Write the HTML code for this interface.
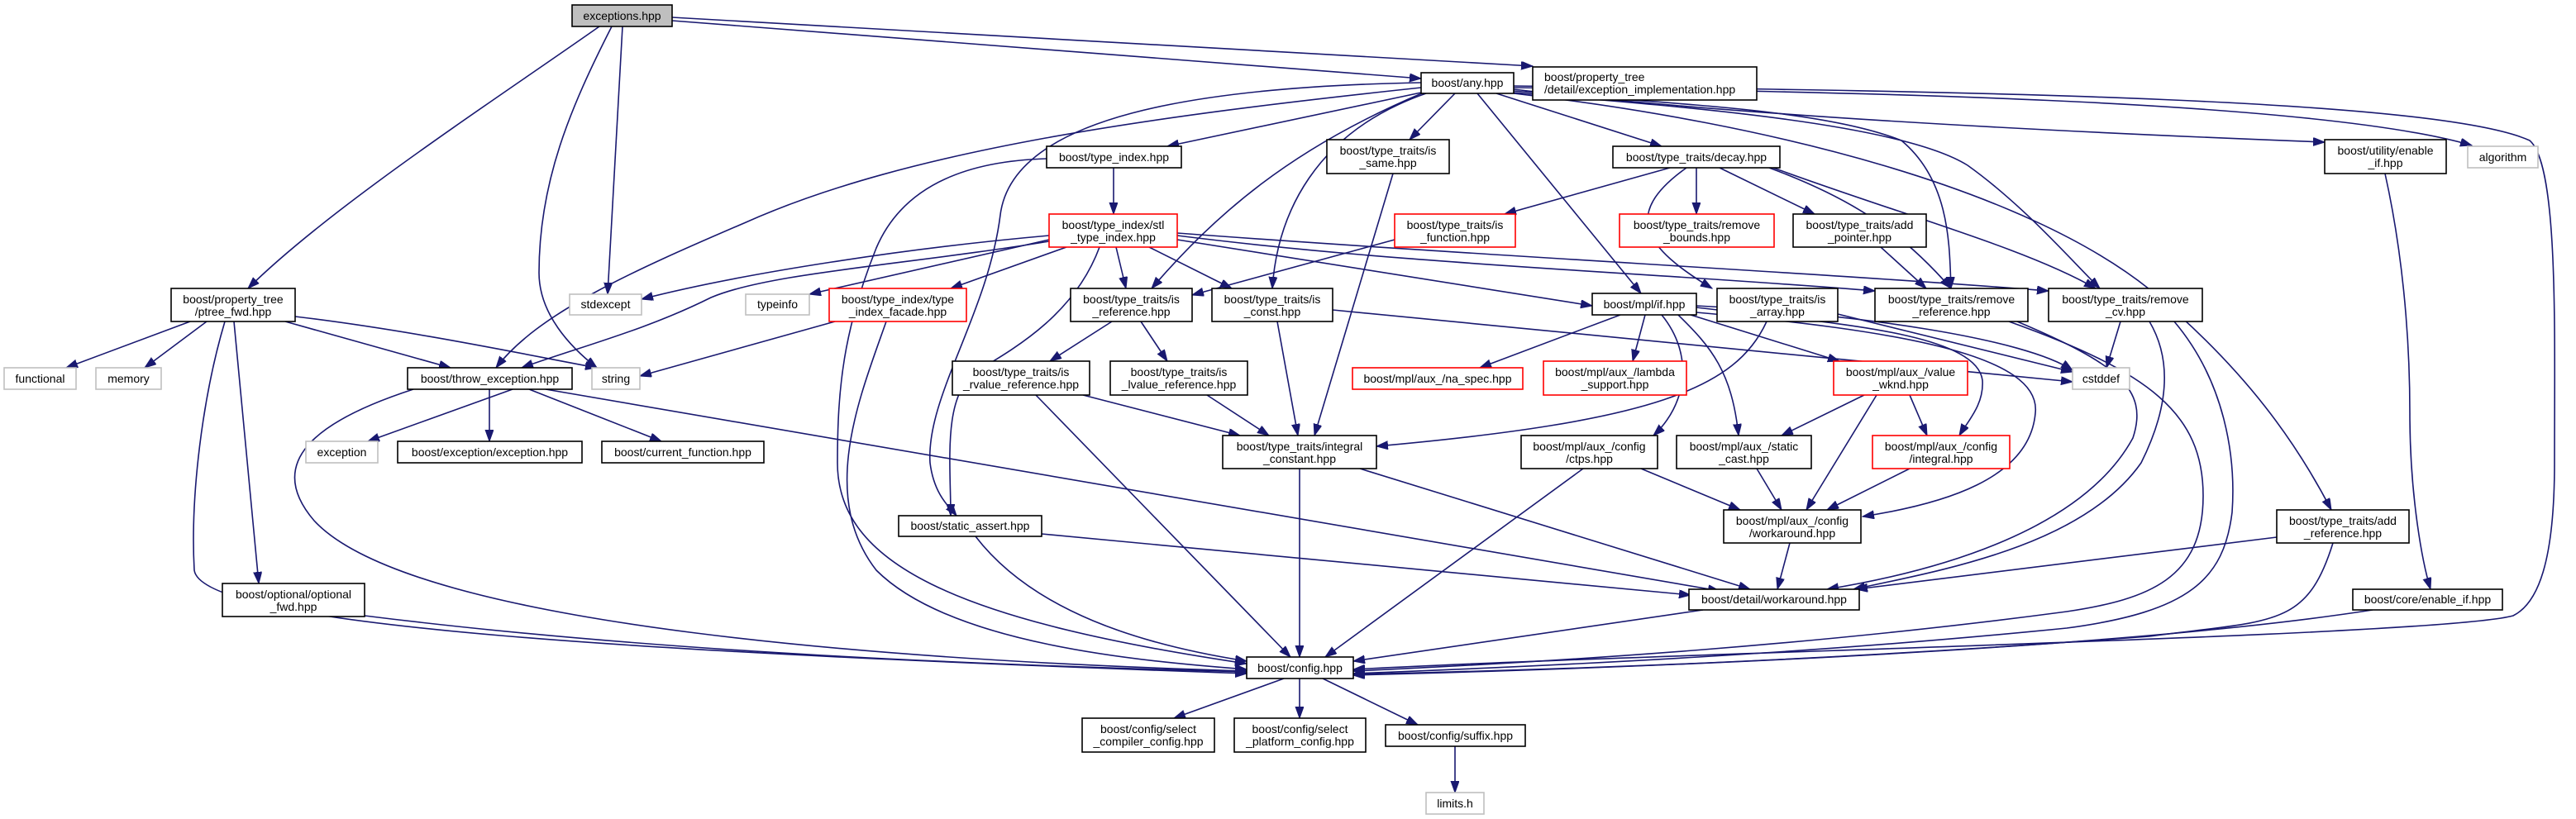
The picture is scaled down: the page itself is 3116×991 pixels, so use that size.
<!DOCTYPE html>
<html><head><meta charset="utf-8"><style>
html,body{margin:0;padding:0;background:#fff;}
svg{display:block;}
text{font-family:"Liberation Sans",sans-serif;font-size:14px;fill:#000;}
.e{fill:none;stroke:#191970;stroke-width:1.6;marker-end:url(#a);}
.n{fill:#fff;stroke:#000;stroke-width:1.6;}
.g{fill:#fff;stroke:#bfbfbf;stroke-width:1.6;}
.r{fill:#fff;stroke:#ff0000;stroke-width:1.6;}
</style></head><body>
<svg width="3116" height="991" viewBox="0 0 3116 991" xmlns="http://www.w3.org/2000/svg">
<defs><marker id="a" markerUnits="userSpaceOnUse" markerWidth="15" markerHeight="11" refX="14" refY="5" orient="auto"><path d="M0,0 L14,5 L0,10 z" fill="#191970" stroke="#191970"/></marker></defs>
<g>
<path class="e" d="M725,32 C600,120 400,250 300,349"/>
<path class="e" d="M740,32 C690,130 652,220 652,330 C652,380 690,420 722,445"/>
<path class="e" d="M753,32 L735,356"/>
<path class="e" d="M813,25 L1719,95"/>
<path class="e" d="M813,21 L1854,80"/>
<path class="e" d="M1719,106 C1400,140 1100,180 900,270 C760,330 650,380 600,445"/>
<path class="e" d="M1719,112 L1412,177"/>
<path class="e" d="M1760,113 L1705,169"/>
<path class="e" d="M1810,113 L2010,177"/>
<path class="e" d="M1722,112 C1560,180 1470,260 1393,349"/>
<path class="e" d="M1725,113 C1590,160 1545,260 1539,349"/>
<path class="e" d="M1719,100 C1450,105 1225,140 1210,260 C1195,380 1120,480 1125,560 C1130,600 1150,615 1157,624"/>
<path class="e" d="M1787,113 L1985,355"/>
<path class="e" d="M1831,110 C2000,125 2200,130 2300,170 C2360,220 2358,300 2360,349"/>
<path class="e" d="M1831,112 C2050,130 2300,150 2380,200 C2450,250 2510,320 2540,349"/>
<path class="e" d="M1831,113 C2150,150 2450,230 2600,350 C2720,450 2780,540 2820,617"/>
<path class="e" d="M1831,108 C2100,140 2500,160 2812,172"/>
<path class="e" d="M1831,106 C2200,110 2800,120 2990,176"/>
<path class="e" d="M1831,104 C2400,110 2950,120 3060,170 C3095,200 3090,400 3090,560 C3090,680 3070,730 3040,745 C2950,770 2000,790 1637,810"/>
<path class="e" d="M1347,203 L1347,259"/>
<path class="e" d="M1266,192 C1160,195 1090,230 1060,300 C1020,400 1013,470 1013,560 C1013,680 1150,750 1508,803"/>
<path class="e" d="M1269,285 C1100,300 900,330 776,362"/>
<path class="e" d="M1269,290 L979,356"/>
<path class="e" d="M1269,292 C1100,320 930,330 860,360 C780,400 700,420 631,445"/>
<path class="e" d="M1290,299 L1150,349"/>
<path class="e" d="M1350,299 L1362,349"/>
<path class="e" d="M1390,299 L1490,349"/>
<path class="e" d="M1424,290 L1926,370"/>
<path class="e" d="M1424,285 C1700,320 2000,330 2268,352"/>
<path class="e" d="M1424,282 C1800,310 2200,330 2478,352"/>
<path class="e" d="M1330,299 C1300,380 1230,420 1180,450 C1140,480 1150,560 1150,624"/>
<path class="e" d="M1010,389 L774,455"/>
<path class="e" d="M1072,389 C1040,480 990,600 1060,690 C1150,780 1380,800 1508,810"/>
<path class="e" d="M1687,290 L1442,357"/>
<path class="e" d="M2020,203 L1820,259"/>
<path class="e" d="M2052,203 L2052,259"/>
<path class="e" d="M2080,203 L2195,259"/>
<path class="e" d="M2040,203 C1960,260 1990,300 2071,349"/>
<path class="e" d="M2140,203 C2240,240 2300,280 2360,349"/>
<path class="e" d="M2145,203 C2300,260 2450,300 2535,349"/>
<path class="e" d="M2275,299 L2330,349"/>
<path class="e" d="M1685,210 L1590,527"/>
<path class="e" d="M1345,389 L1270,437"/>
<path class="e" d="M1380,389 L1412,437"/>
<path class="e" d="M1310,478 L1500,527"/>
<path class="e" d="M1253,478 L1561,795"/>
<path class="e" d="M1460,478 L1535,527"/>
<path class="e" d="M1545,389 L1570,527"/>
<path class="e" d="M1612,375 L2507,462"/>
<path class="e" d="M2137,389 C2100,470 2000,510 1665,540"/>
<path class="e" d="M2223,380 L2507,450"/>
<path class="e" d="M1960,381 L1790,445"/>
<path class="e" d="M1990,381 L1975,437"/>
<path class="e" d="M2010,381 C2050,430 2040,490 2000,527"/>
<path class="e" d="M2030,381 C2070,420 2095,450 2103,527"/>
<path class="e" d="M2045,381 L2225,437"/>
<path class="e" d="M2052,372 C2200,390 2390,400 2398,460 C2400,490 2380,510 2370,527"/>
<path class="e" d="M2310,478 L2331,527"/>
<path class="e" d="M2052,378 C2300,400 2470,430 2462,500 C2455,580 2350,610 2253,625"/>
<path class="e" d="M2270,478 L2185,617"/>
<path class="e" d="M2052,370 C2250,380 2450,410 2507,448"/>
<path class="e" d="M2255,478 L2155,527"/>
<path class="e" d="M2125,567 L2155,617"/>
<path class="e" d="M2310,567 L2210,617"/>
<path class="e" d="M1985,567 L2105,617"/>
<path class="e" d="M1915,567 L1603,795"/>
<path class="e" d="M2165,657 L2150,713"/>
<path class="e" d="M1572,567 L1572,795"/>
<path class="e" d="M1645,567 L2117,713"/>
<path class="e" d="M1260,646 L2045,720"/>
<path class="e" d="M1180,649 C1250,740 1380,780 1508,800"/>
<path class="e" d="M620,471 L445,534"/>
<path class="e" d="M592,471 L592,534"/>
<path class="e" d="M640,471 L800,534"/>
<path class="e" d="M660,471 L2080,715"/>
<path class="e" d="M500,471 C380,510 320,560 380,630 C500,760 1100,800 1508,812"/>
<path class="e" d="M230,389 L80,445"/>
<path class="e" d="M250,389 L175,445"/>
<path class="e" d="M345,389 L545,445"/>
<path class="e" d="M357,383 C500,400 640,430 722,445"/>
<path class="e" d="M283,389 L313,706"/>
<path class="e" d="M272,389 C245,480 230,600 235,690 C245,760 800,790 1508,815"/>
<path class="e" d="M441,745 C800,790 1200,805 1508,813"/>
<path class="e" d="M2060,738 L1637,800"/>
<path class="e" d="M2440,389 C2560,440 2600,470 2580,530 C2520,640 2350,690 2210,713"/>
<path class="e" d="M2600,389 C2630,440 2620,500 2590,560 C2520,660 2350,690 2242,713"/>
<path class="e" d="M2754,650 L2245,713"/>
<path class="e" d="M2430,389 C2600,450 2665,500 2665,600 C2665,700 2600,725 2500,740 C2200,780 1900,800 1637,812"/>
<path class="e" d="M2630,389 C2690,460 2705,550 2700,620 C2690,700 2650,740 2500,760 C2200,790 1900,805 1637,815"/>
<path class="e" d="M2565,389 L2548,445"/>
<path class="e" d="M2822,657 C2790,760 2750,750 2600,770 C2200,800 1900,810 1637,816"/>
<path class="e" d="M2870,738 C2600,780 2100,805 1637,817"/>
<path class="e" d="M2885,210 C2905,300 2915,400 2915,500 C2915,600 2930,680 2940,713"/>
<path class="e" d="M1553,821 L1420,869"/>
<path class="e" d="M1572,821 L1572,869"/>
<path class="e" d="M1600,821 L1715,877"/>
<path class="e" d="M1760,903 L1760,959"/>
</g>
<g>
<rect x="692" y="6" width="121" height="26" fill="#bfbfbf" stroke="#000" stroke-width="1.6"/><text x="752.5" y="24" text-anchor="middle">exceptions.hpp</text>
<rect class="n" x="1854" y="81" width="271" height="40"/><text x="1868" y="98">boost/property_tree</text><text x="1868" y="113">/detail/exception_implementation.hpp</text>
<rect class="n" x="1719" y="88" width="112" height="25"/><text x="1775" y="105" text-anchor="middle">boost/any.hpp</text>
<rect class="n" x="1266" y="177" width="163" height="26"/><text x="1347.5" y="195" text-anchor="middle">boost/type_index.hpp</text>
<rect class="n" x="1605" y="169" width="148" height="41"/><text x="1679" y="187" text-anchor="middle">boost/type_traits/is</text><text x="1679" y="202" text-anchor="middle">_same.hpp</text>
<rect class="n" x="1951" y="177" width="202" height="26"/><text x="2052" y="195" text-anchor="middle">boost/type_traits/decay.hpp</text>
<rect class="n" x="2812" y="169" width="147" height="41"/><text x="2885.5" y="187" text-anchor="middle">boost/utility/enable</text><text x="2885.5" y="202" text-anchor="middle">_if.hpp</text>
<rect class="g" x="2985" y="177" width="85" height="26"/><text x="3027.5" y="195" text-anchor="middle">algorithm</text>
<rect class="r" x="1269" y="259" width="155" height="40"/><text x="1346.5" y="277" text-anchor="middle">boost/type_index/stl</text><text x="1346.5" y="292" text-anchor="middle">_type_index.hpp</text>
<rect class="r" x="1687" y="259" width="146" height="40"/><text x="1760" y="277" text-anchor="middle">boost/type_traits/is</text><text x="1760" y="292" text-anchor="middle">_function.hpp</text>
<rect class="r" x="1959" y="259" width="187" height="40"/><text x="2052.5" y="277" text-anchor="middle">boost/type_traits/remove</text><text x="2052.5" y="292" text-anchor="middle">_bounds.hpp</text>
<rect class="n" x="2169" y="259" width="161" height="40"/><text x="2249.5" y="277" text-anchor="middle">boost/type_traits/add</text><text x="2249.5" y="292" text-anchor="middle">_pointer.hpp</text>
<rect class="n" x="207" y="349" width="150" height="40"/><text x="282" y="367" text-anchor="middle">boost/property_tree</text><text x="282" y="382" text-anchor="middle">/ptree_fwd.hpp</text>
<rect class="g" x="689" y="356" width="87" height="25"/><text x="732.5" y="373" text-anchor="middle">stdexcept</text>
<rect class="g" x="902" y="356" width="77" height="25"/><text x="940.5" y="373" text-anchor="middle">typeinfo</text>
<rect class="r" x="1003" y="349" width="166" height="40"/><text x="1086" y="367" text-anchor="middle">boost/type_index/type</text><text x="1086" y="382" text-anchor="middle">_index_facade.hpp</text>
<rect class="n" x="1295" y="349" width="147" height="40"/><text x="1368.5" y="367" text-anchor="middle">boost/type_traits/is</text><text x="1368.5" y="382" text-anchor="middle">_reference.hpp</text>
<rect class="n" x="1466" y="349" width="146" height="40"/><text x="1539" y="367" text-anchor="middle">boost/type_traits/is</text><text x="1539" y="382" text-anchor="middle">_const.hpp</text>
<rect class="n" x="1926" y="355" width="126" height="26"/><text x="1989" y="373" text-anchor="middle">boost/mpl/if.hpp</text>
<rect class="n" x="2077" y="349" width="146" height="40"/><text x="2150" y="367" text-anchor="middle">boost/type_traits/is</text><text x="2150" y="382" text-anchor="middle">_array.hpp</text>
<rect class="n" x="2268" y="349" width="185" height="40"/><text x="2360.5" y="367" text-anchor="middle">boost/type_traits/remove</text><text x="2360.5" y="382" text-anchor="middle">_reference.hpp</text>
<rect class="n" x="2478" y="349" width="186" height="40"/><text x="2571" y="367" text-anchor="middle">boost/type_traits/remove</text><text x="2571" y="382" text-anchor="middle">_cv.hpp</text>
<rect class="g" x="5" y="445" width="87" height="26"/><text x="48.5" y="463" text-anchor="middle">functional</text>
<rect class="g" x="116" y="445" width="79" height="26"/><text x="155.5" y="463" text-anchor="middle">memory</text>
<rect class="n" x="493" y="445" width="199" height="26"/><text x="592.5" y="463" text-anchor="middle">boost/throw_exception.hpp</text>
<rect class="g" x="716" y="445" width="58" height="26"/><text x="745" y="463" text-anchor="middle">string</text>
<rect class="n" x="1152" y="437" width="166" height="41"/><text x="1235" y="455" text-anchor="middle">boost/type_traits/is</text><text x="1235" y="470" text-anchor="middle">_rvalue_reference.hpp</text>
<rect class="n" x="1343" y="437" width="166" height="41"/><text x="1426" y="455" text-anchor="middle">boost/type_traits/is</text><text x="1426" y="470" text-anchor="middle">_lvalue_reference.hpp</text>
<rect class="r" x="1636" y="445" width="206" height="26"/><text x="1739" y="463" text-anchor="middle">boost/mpl/aux_/na_spec.hpp</text>
<rect class="r" x="1867" y="437" width="173" height="41"/><text x="1953.5" y="455" text-anchor="middle">boost/mpl/aux_/lambda</text><text x="1953.5" y="470" text-anchor="middle">_support.hpp</text>
<rect class="r" x="2218" y="437" width="162" height="41"/><text x="2299" y="455" text-anchor="middle">boost/mpl/aux_/value</text><text x="2299" y="470" text-anchor="middle">_wknd.hpp</text>
<rect class="g" x="2507" y="445" width="69" height="26"/><text x="2541.5" y="463" text-anchor="middle">cstddef</text>
<rect class="g" x="370" y="534" width="87" height="26"/><text x="413.5" y="552" text-anchor="middle">exception</text>
<rect class="n" x="481" y="534" width="223" height="26"/><text x="592.5" y="552" text-anchor="middle">boost/exception/exception.hpp</text>
<rect class="n" x="728" y="534" width="196" height="26"/><text x="826" y="552" text-anchor="middle">boost/current_function.hpp</text>
<rect class="n" x="1479" y="527" width="186" height="40"/><text x="1572" y="545" text-anchor="middle">boost/type_traits/integral</text><text x="1572" y="560" text-anchor="middle">_constant.hpp</text>
<rect class="n" x="1840" y="527" width="165" height="40"/><text x="1922.5" y="545" text-anchor="middle">boost/mpl/aux_/config</text><text x="1922.5" y="560" text-anchor="middle">/ctps.hpp</text>
<rect class="n" x="2028" y="527" width="163" height="40"/><text x="2109.5" y="545" text-anchor="middle">boost/mpl/aux_/static</text><text x="2109.5" y="560" text-anchor="middle">_cast.hpp</text>
<rect class="r" x="2265" y="527" width="166" height="40"/><text x="2348" y="545" text-anchor="middle">boost/mpl/aux_/config</text><text x="2348" y="560" text-anchor="middle">/integral.hpp</text>
<rect class="n" x="1087" y="624" width="173" height="25"/><text x="1173.5" y="641" text-anchor="middle">boost/static_assert.hpp</text>
<rect class="n" x="2085" y="617" width="166" height="40"/><text x="2168" y="635" text-anchor="middle">boost/mpl/aux_/config</text><text x="2168" y="650" text-anchor="middle">/workaround.hpp</text>
<rect class="n" x="2754" y="617" width="160" height="40"/><text x="2834" y="635" text-anchor="middle">boost/type_traits/add</text><text x="2834" y="650" text-anchor="middle">_reference.hpp</text>
<rect class="n" x="269" y="706" width="172" height="40"/><text x="355" y="724" text-anchor="middle">boost/optional/optional</text><text x="355" y="739" text-anchor="middle">_fwd.hpp</text>
<rect class="n" x="2043" y="713" width="206" height="25"/><text x="2146" y="730" text-anchor="middle">boost/detail/workaround.hpp</text>
<rect class="n" x="2846" y="713" width="181" height="25"/><text x="2936.5" y="730" text-anchor="middle">boost/core/enable_if.hpp</text>
<rect class="n" x="1508" y="795" width="129" height="26"/><text x="1572.5" y="813" text-anchor="middle">boost/config.hpp</text>
<rect class="n" x="1309" y="869" width="160" height="41"/><text x="1389" y="887" text-anchor="middle">boost/config/select</text><text x="1389" y="902" text-anchor="middle">_compiler_config.hpp</text>
<rect class="n" x="1493" y="869" width="159" height="41"/><text x="1572.5" y="887" text-anchor="middle">boost/config/select</text><text x="1572.5" y="902" text-anchor="middle">_platform_config.hpp</text>
<rect class="n" x="1676" y="877" width="169" height="26"/><text x="1760.5" y="895" text-anchor="middle">boost/config/suffix.hpp</text>
<rect class="g" x="1725" y="959" width="70" height="26"/><text x="1760" y="977" text-anchor="middle">limits.h</text>
</g>
</svg>
</body></html>
